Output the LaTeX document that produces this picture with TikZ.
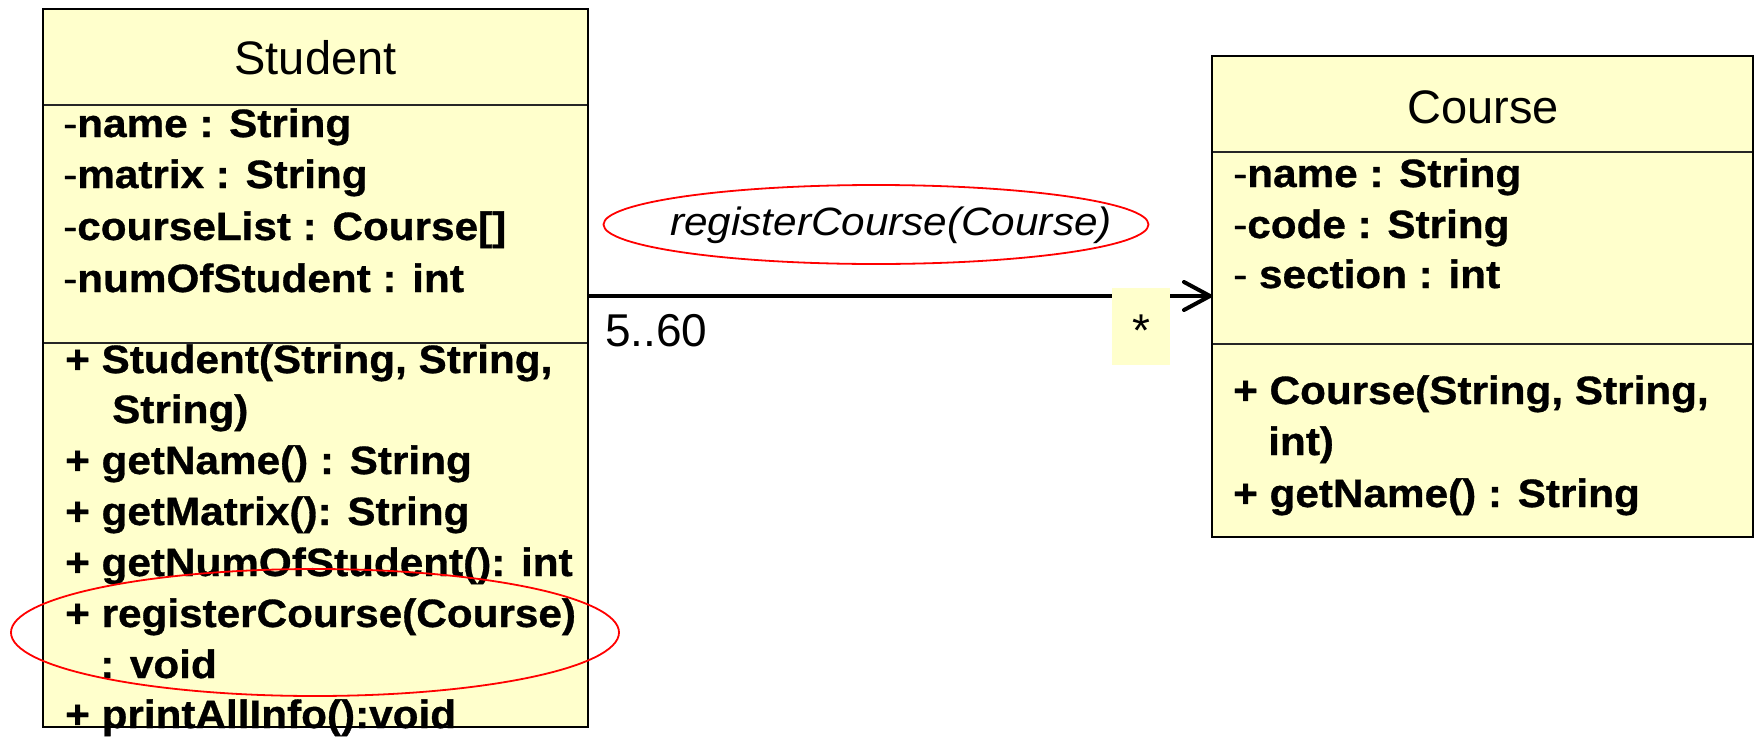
\documentclass[tikz,border=0pt]{standalone}
\usepackage{fontspec}
\setmainfont{Liberation Sans}
\newfontfamily\memberfont{Liberation Sans}[FakeStretch=1.07, FakeBold=0.8]
\newfontfamily\notefont{Liberation Sans}[FakeStretch=1.07]
\usetikzlibrary{arrows.meta,shapes.geometric}
\definecolor{umlfill}{HTML}{FFFFCC}

\begin{document}
\begin{tikzpicture}[x=1pt,y=-1pt,
  classbox/.style={fill=umlfill, inner sep=0pt, anchor=north west},
  boxline/.style={draw=black, line width=2pt},
  divider/.style={draw=black!85, line width=1.8pt},
  titletext/.style={anchor=base, inner sep=0pt, font=\fontsize{47}{50}\selectfont},
  member/.style={anchor=base west, inner sep=0pt,
    font=\memberfont\fontsize{39.5}{44}\selectfont\bfseries},
  plaintext/.style={anchor=base west, inner sep=0pt, font=\fontsize{46}{50}\selectfont},
  redoval/.style={ellipse, draw=red, line width=1.8pt, inner sep=0pt},
  assoc/.style={line width=4pt, -{Straight Barb[length=26pt, width=28pt, round]}}
]
\path[use as bounding box] (0,0) rectangle (1756,739);

% class boxes (fill only; outlines are drawn on top of the text)
\node[classbox, minimum width=545pt, minimum height=718pt] (student) at (43,9) {};
\node[classbox, minimum width=541pt, minimum height=481pt] (course) at (1212,56) {};

% compartment dividers
\draw[divider] ([yshift=-96pt]student.north west) -- ([yshift=-96pt]student.north east);
\draw[divider] ([yshift=-334pt]student.north west) -- ([yshift=-334pt]student.north east);
\draw[divider] ([yshift=-96pt]course.north west) -- ([yshift=-96pt]course.north east);
\draw[divider] ([yshift=-288pt]course.north west) -- ([yshift=-288pt]course.north east);

% Student class
\node[titletext] (stitle) at (315.5,74) {Student};
\node[member] (sa1) at (63,137) {\textmd{-}name : String};
\node[member] (sa2) at (63,188) {\textmd{-}matrix : String};
\node[member] (sa3) at (63,240) {\textmd{-}courseList : Course[]};
\node[member] (sa4) at (63,292) {\textmd{-}numOfStudent : int};
\node[member] (so1) at (65,373) {+ Student(String, String,};
\node[member] (so1b) at (112,423) {String)};
\node[member] (so2) at (65,474) {+ getName() : String};
\node[member] (so3) at (65,525) {+ getMatrix(): String};
\node[member] (so4) at (65,576) {+ getNumOfStudent(): int};
\node[member] (so5) at (65,627) {+ registerCourse(Course)};
\node[member] (so5b) at (100,678) {: void};
\node[member] (so6) at (65,728) {+ printAllInfo():void};

% Course class
\node[titletext] (ctitle) at (1483,123) {Course};
\node[member] (ca1) at (1233,187) {\textmd{-}name : String};
\node[member] (ca2) at (1233,238) {\textmd{-}code : String};
\node[member] (ca3) at (1233,288) {\textmd{- }section : int};
\node[member] (co1) at (1233,404) {+ Course(String, String,};
\node[member] (co1b) at (1268,455) {int)};
\node[member] (co2) at (1233,507) {+ getName() : String};

% box outlines
\draw[boxline] (student.north west) rectangle (student.south east);
\draw[boxline] (course.north west) rectangle (course.south east);

% association Student -> Course
\coordinate (lvl) at (0,296);
\draw[assoc] (student.east |- lvl) -- (course.west |- lvl);
\node[plaintext] (lowmult) at (605,346) {5..60};
\node[fill=umlfill, minimum width=58pt, minimum height=77pt, inner sep=0pt] (multbox) at (1141,326.5) {};
\node[anchor=base, inner sep=0pt, font=\fontsize{46}{50}\selectfont] (mult) at (1141,346) {*};

% message label and highlights
\node[redoval, minimum width=545pt, minimum height=79pt] (msgoval) at (876,224.5) {};
\node[anchor=base west, inner sep=0pt, font=\notefont\fontsize{39.5}{44}\selectfont\itshape] (msg) at (670,235) {registerCourse(Course)};
\node[redoval, minimum width=608pt, minimum height=127pt] (focus) at (315,632.5) {};
\end{tikzpicture}
\end{document}
